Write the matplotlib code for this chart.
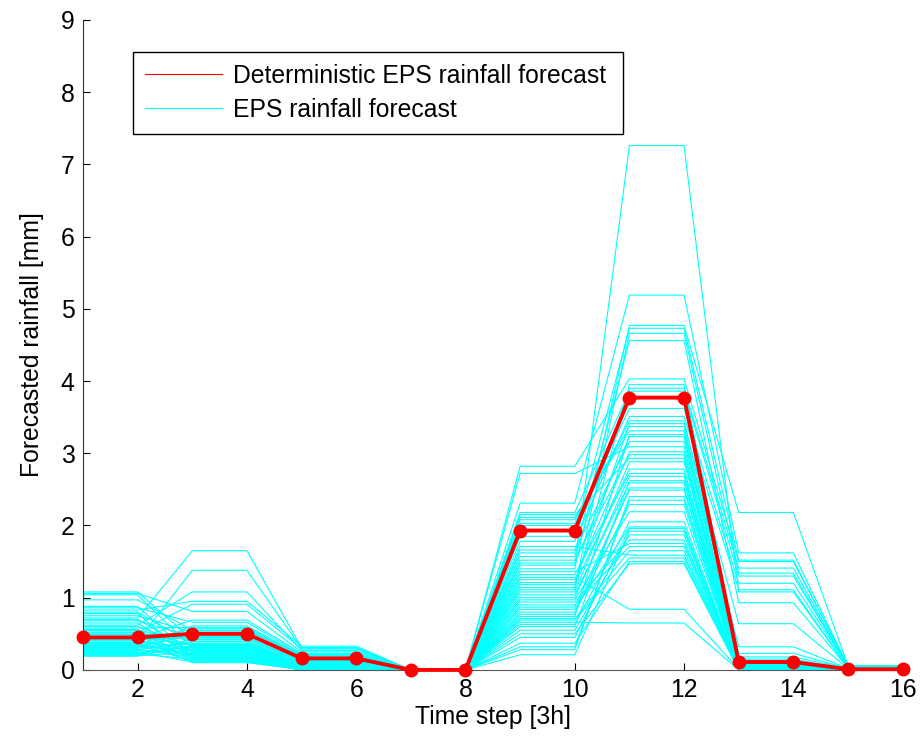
import matplotlib
matplotlib.use("Agg")
import matplotlib.pyplot as plt
import numpy as np
from matplotlib.lines import Line2D

plt.rcParams['font.family'] = ['Liberation Sans', 'DejaVu Sans']
plt.rcParams['font.size'] = 17.8

# time steps (3h)
steps = np.arange(1, 17)

# deterministic forecast [mm]
det = [0.45, 0.45, 0.50, 0.50, 0.16, 0.16, 0.0, 0.0,
       1.93, 1.93, 3.77, 3.77, 0.11, 0.11, 0.01, 0.01]

# EPS members, one value per 6h period (each value holds for 2 time steps)
p1 = [1.08, 1.06, 1.04, 0.97, 0.88, 0.86, 0.83, 0.80, 0.78, 0.75,
      0.72, 0.70, 0.68, 0.65, 0.62, 0.60, 0.58, 0.56, 0.55, 0.54,
      0.52, 0.50, 0.49, 0.47, 0.46, 0.44, 0.43, 0.42, 0.41, 0.40,
      0.38, 0.37, 0.36, 0.35, 0.34, 0.33, 0.32, 0.31, 0.30, 0.29,
      0.28, 0.27, 0.26, 0.25, 0.24, 0.23, 0.22, 0.21, 0.20, 0.19]
p2 = [0.42, 0.81, 0.30, 0.55, 0.20, 0.66, 0.95, 0.37, 0.14, 0.52,
      1.65, 0.25, 0.46, 0.18, 1.08, 0.33, 0.59, 0.12, 0.40, 0.28,
      0.91, 0.22, 0.50, 0.16, 0.35, 0.69, 0.10, 0.45, 0.26, 1.38,
      0.31, 0.19, 0.57, 0.23, 0.13, 0.48, 0.36, 0.29, 0.61, 0.17,
      0.39, 0.21, 0.54, 0.11, 0.32, 0.27, 0.15, 0.43, 0.24, 0.34]
p3 = [0.12, 0.25, 0.05, 0.18, 0.02, 0.21, 0.33, 0.08, 0.00, 0.15,
      0.31, 0.03, 0.11, 0.01, 0.27, 0.06, 0.19, 0.00, 0.10, 0.04,
      0.29, 0.02, 0.14, 0.00, 0.09, 0.23, 0.01, 0.13, 0.03, 0.30,
      0.07, 0.00, 0.17, 0.02, 0.00, 0.16, 0.06, 0.04, 0.20, 0.01,
      0.08, 0.00, 0.22, 0.00, 0.05, 0.03, 0.00, 0.11, 0.02, 0.07]
p4 = [0.0] * 50
p5 = [1.45, 2.03, 0.87, 1.66, 0.55, 1.14, 2.82, 0.97, 0.37, 1.21,
      2.15, 0.74, 1.32, 0.45, 2.31, 0.90, 1.57, 0.28, 1.04, 0.69,
      2.08, 0.63, 1.40, 0.50, 1.08, 1.78, 0.21, 1.25, 0.80, 2.72,
      0.94, 0.60, 1.62, 0.71, 0.32, 1.48, 1.00, 0.84, 1.85, 0.66,
      1.11, 0.77, 2.11, 1.28, 1.18, 2.18, 2.00, 1.52, 1.36, 1.71]
p6 = [7.26, 3.62, 2.49, 3.16, 1.87, 4.66, 4.03, 2.19, 1.50, 3.41,
      2.93, 3.26, 2.72, 1.96, 5.19, 1.71, 3.90, 2.40, 2.59, 1.55,
      3.37, 2.05, 4.77, 1.47, 2.88, 3.51, 1.92, 3.02, 2.29, 3.09,
      1.80, 2.62, 4.56, 1.65, 2.35, 3.23, 2.68, 1.98, 4.73, 0.65,
      3.95, 2.52, 3.31, 0.84, 2.78, 3.86, 3.45, 2.98, 1.75, 1.59]
p7 = [1.08, 1.20, 0.03, 0.18, 0.00, 1.34, 1.50, 0.02, 0.00, 0.64,
      0.07, 0.12, 0.05, 0.01, 1.62, 0.02, 1.41, 0.04, 0.03, 0.00,
      0.10, 0.01, 2.18, 0.00, 0.06, 1.11, 0.00, 0.08, 0.02, 0.09,
      0.01, 0.04, 0.93, 0.01, 0.03, 0.07, 0.05, 0.00, 1.52, 0.00,
      0.15, 0.03, 0.32, 0.01, 0.06, 1.30, 0.23, 0.05, 0.04, 0.02]
p8 = [0.03, 0.05, 0.00, 0.02, 0.00, 0.04, 0.06, 0.00, 0.00, 0.02,
      0.01, 0.03, 0.00, 0.00, 0.05, 0.01, 0.04, 0.00, 0.01, 0.00,
      0.02, 0.00, 0.06, 0.00, 0.01, 0.03, 0.00, 0.02, 0.00, 0.01,
      0.00, 0.01, 0.03, 0.00, 0.00, 0.02, 0.01, 0.00, 0.04, 0.00,
      0.01, 0.00, 0.02, 0.00, 0.01, 0.05, 0.02, 0.01, 0.00, 0.00]

periods = np.array([p1, p2, p3, p4, p5, p6, p7, p8])   # 8 x 50
eps = np.repeat(periods, 2, axis=0)                     # 16 x 50

fig = plt.figure(figsize=(9.22, 7.37), dpi=100)
ax = fig.add_axes([0.090, 0.091, 0.889, 0.882])

ax.plot(steps, eps, color='cyan', linewidth=0.8)
ax.plot(steps, det, color='red', linewidth=2.8, marker='o', markersize=9,
        markerfacecolor='red', markeredgecolor='red', clip_on=False, zorder=5)

ax.set_xlim(1, 16)
ax.set_ylim(0, 9)
ax.set_xticks(np.arange(2, 17, 2))
ax.set_yticks(np.arange(0, 10, 1))
ax.tick_params(direction='in', length=5, width=0.8, pad=6)
ax.spines['top'].set_visible(False)
ax.spines['right'].set_visible(False)
ax.spines['left'].set_color('#333333')
ax.spines['bottom'].set_color('#555555')

ax.set_xlabel('Time step [3h]', labelpad=2)
ax.set_ylabel('Forecasted rainfall [mm]', labelpad=12)

handles = [Line2D([], [], color='red', linewidth=0.8),
           Line2D([], [], color='cyan', linewidth=0.8)]
leg = ax.legend(handles, ['Deterministic EPS rainfall forecast', 'EPS rainfall forecast'],
                loc='upper left', bbox_to_anchor=(0.061, 0.828, 0.598, 0.123),
                mode='expand', borderaxespad=0,
                fancybox=False, framealpha=1, edgecolor='black',
                handlelength=3.1, handletextpad=0.45, labelspacing=0.38,
                borderpad=0.5)
leg.get_frame().set_linewidth(1.0)

fig.savefig('out.png', dpi=100)
